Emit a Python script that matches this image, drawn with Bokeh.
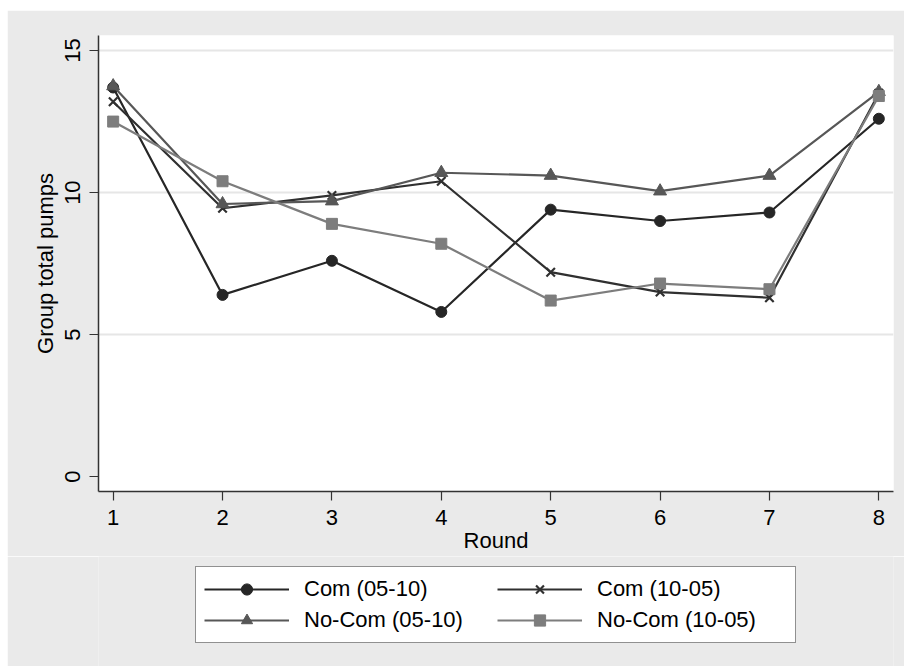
from bokeh.plotting import figure
from bokeh.models import Range1d, FixedTicker, Legend, LegendItem
from bokeh.layouts import column
from bokeh.embed import file_html
from bokeh.resources import INLINE

rounds = [1, 2, 3, 4, 5, 6, 7, 8]
com_05_10 = [13.7, 6.4, 7.6, 5.8, 9.4, 9.0, 9.3, 12.6]
com_10_05 = [13.2, 9.45, 9.9, 10.4, 7.2, 6.5, 6.3, 13.5]
nocom_05_10 = [13.75, 9.6, 9.7, 10.7, 10.6, 10.05, 10.6, 13.55]
nocom_10_05 = [12.5, 10.4, 8.9, 8.2, 6.2, 6.8, 6.6, 13.4]
series_labels = ["Com (05-10)", "Com (10-05)", "No-Com (05-10)", "No-Com (10-05)"]
y_ticks = [0, 5, 10, 15]
x_ticks = [1, 2, 3, 4, 5, 6, 7, 8]

FONT = "Liberation Sans"
FS = "22px"
BG = "#eaeaea"

p = figure(width=897, height=546, output_backend="svg", toolbar_location=None,
           x_range=Range1d(0.866, 8.134), y_range=Range1d(-0.52, 15.53),
           min_border_left=91, min_border_right=11, min_border_top=25,
           min_border_bottom=65)
p.margin = (10, 0, 0, 7)
p.border_fill_color = BG
p.background_fill_color = "white"
p.outline_line_color = None

# grid
p.xgrid.grid_line_color = None
p.ygrid.ticker = FixedTicker(ticks=[5, 10, 15])
p.ygrid.grid_line_color = "#e6e6e6"
p.ygrid.grid_line_width = 2

# axes
for ax in (p.xaxis[0], p.yaxis[0]):
    ax.axis_line_color = "#333333"
    ax.axis_line_width = 1.5
    ax.major_tick_line_color = "#333333"
    ax.major_tick_line_width = 1.2
    ax.minor_tick_line_color = None
    ax.major_tick_in = 0
    ax.major_tick_out = 9
    ax.major_label_text_font = FONT
    ax.major_label_text_font_size = FS
    ax.major_label_text_color = "black"
    ax.axis_label_text_font = FONT
    ax.axis_label_text_font_size = FS
    ax.axis_label_text_font_style = "normal"
    ax.axis_label_text_color = "black"

p.xaxis.ticker = FixedTicker(ticks=x_ticks)
p.yaxis.ticker = FixedTicker(ticks=y_ticks)
p.xaxis.axis_label = "Round"
p.yaxis.axis_label = "Group total pumps"
p.xaxis.major_label_standoff = 9
p.xaxis.axis_label_standoff = 0
p.yaxis.major_label_orientation = "vertical"
p.yaxis.major_label_standoff = 9
p.yaxis.axis_label_standoff = 5

styles = [
    (com_05_10, "#262626", "circle", 11),
    (com_10_05, "#303030", "x", 12),
    (nocom_05_10, "#575757", "triangle", 13),
    (nocom_10_05, "#7d7d7d", "square", 11),
]


def draw(fig, xs, ys, color, marker, size):
    r1 = fig.line(xs, ys, line_color=color, line_width=2.2)
    if marker == "x":
        r2 = fig.scatter(xs, ys, marker="x", size=size, line_color=color,
                         line_width=2.2)
    else:
        r2 = fig.scatter(xs, ys, marker=marker, size=size, fill_color=color,
                         line_color=color, line_width=1)
    return [r1, r2]


for vals, color, marker, size in styles:
    draw(p, rounds, vals, color, marker, size)

# key strip below the plot; its view is scrolled far away from the data so
# only the legend box shows
leg = figure(width=897, height=110, output_backend="svg", toolbar_location=None,
             x_range=Range1d(100, 101), y_range=Range1d(100, 101),
             min_border_left=0, min_border_right=0, min_border_top=0,
             min_border_bottom=0)
leg.margin = (0, 0, 0, 7)
leg.axis.visible = False
leg.grid.visible = False
leg.outline_line_color = None
leg.background_fill_color = BG
leg.border_fill_color = BG

items = []
for (vals, color, marker, size), label in zip(styles, series_labels):
    rs = draw(leg, rounds, vals, color, marker, size)
    items.append(LegendItem(label=label, renderers=rs))

# column-major fill: col 1 = Com(05-10), No-Com(05-10); col 2 = Com(10-05), No-Com(10-05)
ordered = [items[0], items[2], items[1], items[3]]
legend = Legend(items=ordered, ncols=2, location=(97, 23),
                label_text_font=FONT, label_text_font_size=FS,
                label_text_color="black",
                glyph_width=85, glyph_height=28, label_height=28,
                label_width=190, label_standoff=15,
                spacing=3, padding=8, margin=0,
                border_line_color="#222222", border_line_width=1.5,
                background_fill_color="white", background_fill_alpha=1)
leg.add_layout(legend, "center")

open("out.html", "w").write(file_html(column(p, leg, spacing=0), INLINE))
